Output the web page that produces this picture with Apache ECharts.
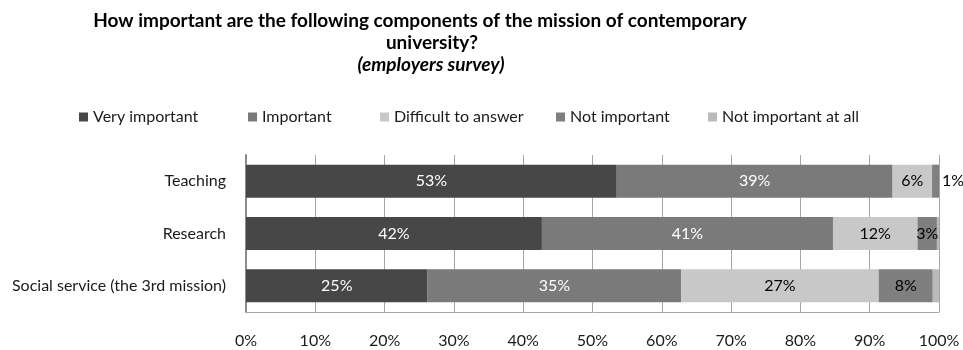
<!DOCTYPE html>
<html>
<head>
<meta charset="utf-8">
<script src="https://cdn.jsdelivr.net/npm/echarts@6/dist/echarts.min.js"></script>
<style>
html,body{margin:0;padding:0;background:#fff;}
#chart{width:963px;height:350px;}
</style>
</head>
<body>
<div id="chart"></div>
<script>
const titleLines = ['How important are the following components of the mission of contemporary', 'university?', '(employers survey)'];
const categories = ['Teaching', 'Research', 'Social service (the 3rd mission)'];
const seriesNames = ['Very important', 'Important', 'Difficult to answer', 'Not important', 'Not important at all'];
const veryImportant = [53.5, 42.7, 26.2];
const important = [39.8, 42.0, 36.6];
const difficult = [5.7, 12.2, 28.5];
const notImportant = [1.0, 2.8, 7.8];
const notImportantAtAll = [0, 0.3, 0.9];
const veryImportantLabels = ['53%', '42%', '25%'];
const importantLabels = ['39%', '41%', '35%'];
const difficultLabels = ['6%', '12%', '27%'];
const notImportantLabels = ['1%', '3%', '8%'];
const notImportantAtAllLabels = ['', '', ''];
const xTicks = [0, 10, 20, 30, 40, 50, 60, 70, 80, 90, 100];

const FONT = 'Lato';
const FS = 16;
const colors = ['#474747', '#7a7a7a', '#c8c8c8', '#7f7f7f', '#bababa'];
const labelColors = ['#ffffff', '#ffffff', '#000000', '#000000', '#000000'];
const values = [veryImportant, important, difficult, notImportant, notImportantAtAll];
const labels = [veryImportantLabels, importantLabels, difficultLabels, notImportantLabels, notImportantAtAllLabels];

const chart = echarts.init(document.getElementById('chart'), null, {renderer: 'canvas'});

const series = seriesNames.map((name, si) => ({
  name: name,
  type: 'bar',
  stack: 'total',
  barWidth: 33,
  itemStyle: {color: colors[si]},
  label: {
    show: true,
    position: 'inside',
    color: labelColors[si],
    fontFamily: FONT,
    fontSize: FS,
    formatter: p => labels[si][p.dataIndex]
  },
  data: values[si].map((v, i) => {
    const item = {value: v};
    if (si === 3 && v < 2) {
      item.label = {position: 'right', distance: 3};
    }
    return item;
  })
}));

const legendX = [79, 248, 380, 556, 708];
const legends = seriesNames.map((n, i) => ({
  data: [n],
  left: legendX[i],
  top: 109,
  padding: 0,
  icon: 'rect',
  itemWidth: 9,
  itemHeight: 9,
  itemGap: 5,
  selectedMode: false,
  textStyle: {fontFamily: FONT, fontSize: FS, color: '#1a1a1a'}
}));

chart.setOption({
  animation: false,
  backgroundColor: '#fff',
  color: colors,
  graphic: [
    {type: 'text', x: 420, y: 21, style: {text: titleLines[0], fontFamily: FONT, fontWeight: 'bold', fontSize: 19, fill: '#000', align: 'center', verticalAlign: 'middle'}},
    {type: 'text', x: 432, y: 43, style: {text: titleLines[1], fontFamily: FONT, fontWeight: 'bold', fontSize: 19, fill: '#000', align: 'center', verticalAlign: 'middle'}},
    {type: 'text', x: 431, y: 65, style: {text: titleLines[2], fontFamily: FONT, fontWeight: 'bold', fontStyle: 'italic', fontSize: 19, fill: '#000', align: 'center', verticalAlign: 'middle'}}
  ],
  legend: legends,
  grid: {left: 246, right: 24, top: 155, bottom: 38, containLabel: false},
  xAxis: {
    type: 'value',
    min: xTicks[0],
    max: xTicks[xTicks.length - 1],
    interval: xTicks[1] - xTicks[0],
    axisLine: {show: true, lineStyle: {color: '#a6a6a6', width: 1}},
    axisTick: {show: false},
    splitLine: {show: true, lineStyle: {color: '#a6a6a6', width: 1}},
    axisLabel: {formatter: '{value}%', fontFamily: FONT, fontSize: FS, color: '#1a1a1a', margin: 21}
  },
  yAxis: {
    type: 'category',
    inverse: true,
    data: categories,
    axisLine: {show: true, lineStyle: {color: '#8c8c8c', width: 2}},
    axisTick: {show: false},
    axisLabel: {fontFamily: FONT, fontSize: FS, color: '#1a1a1a', margin: 20}
  },
  series: series
});
</script>
</body>
</html>
